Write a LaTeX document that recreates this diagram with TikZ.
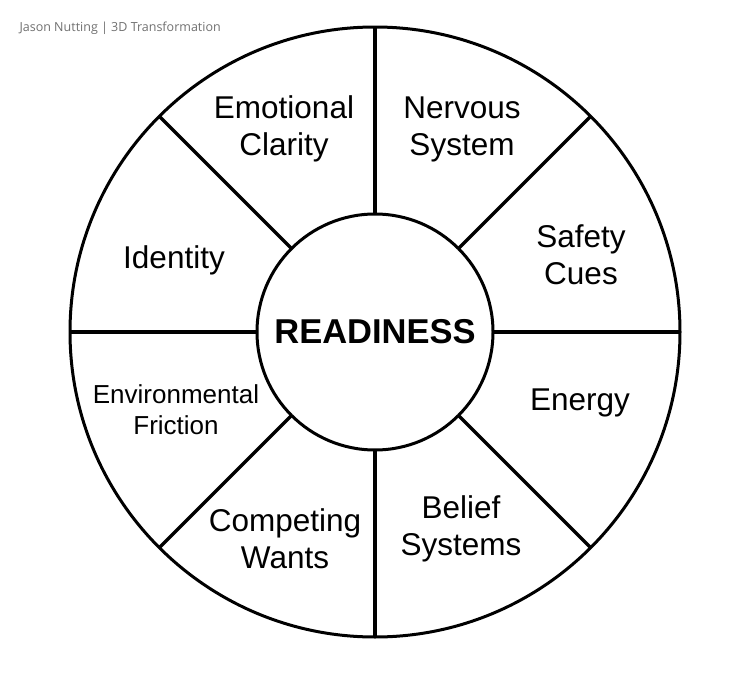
\documentclass[tikz,border=0pt]{standalone}
\usepackage{fontspec}
\setmainfont{Liberation Sans}
\newfontfamily\creditfont{Open Sans}
\usetikzlibrary{positioning}
\definecolor{creditgray}{HTML}{707070}

\begin{document}
\begin{tikzpicture}[x=1pt, y=-1pt,
  ring/.style={draw, circle, line width=3pt, inner sep=0pt, outer sep=0pt},
  spoke/.style={line width=3.2pt},
  sector/.style={align=center, font=\fontsize{31.5}{37}\selectfont},
  credit/.style={anchor=west, text=creditgray, font=\creditfont\fontsize{12.5}{15}\selectfont}]
\useasboundingbox (0,0) rectangle (748,680);
\node[credit] (by) at (16,28) {Jason Nutting | 3D Transformation};
\node[ring, minimum size=610pt] (rim) at (375,332) {};
\node[ring, minimum size=236pt, font=\fontsize{34.5}{40}\selectfont\bfseries] (hub) at (375,332) {READINESS};
\foreach \a in {0,45,...,315}
  \draw[spoke] (hub.\a) -- (rim.\a);
% the eight sectors
\node[sector] (emo) at (284,129) {Emotional\\Clarity};
\node[sector] (nerv) at (462,129) {Nervous\\System};
\node[sector] (safe) at (581,255) {Safety\\Cues};
\node[sector] (ener) at (580,403) {Energy};
\node[sector] (bel) at (461,529) {Belief\\Systems};
\node[sector] (comp) at (285,539) {Competing\\Wants};
\node[sector, font=\fontsize{26}{31}\selectfont] (env) at (176,410) {Environmental\\Friction};
\node[sector] (iden) at (174,260) {Identity};
\end{tikzpicture}
\end{document}
